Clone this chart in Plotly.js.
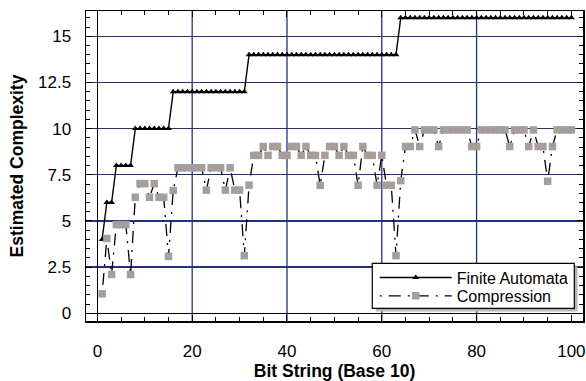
<!DOCTYPE html>
<html>
<head>
<meta charset="utf-8">
<script src="https://cdn.plot.ly/plotly-3.0.1.min.js"></script>
<style>
  html, body { margin: 0; padding: 0; background: #ffffff; }
  #chart { width: 586px; height: 381px; }
</style>
</head>
<body>
<div id="chart"></div>
<script>
// Bit strings (base 10 values)
const bitStrings = [
  1,2,3,4,5,6,7,8,9,10,11,12,13,14,15,16,17,18,19,20,
  21,22,23,24,25,26,27,28,29,30,31,32,33,34,35,36,37,38,39,40,
  41,42,43,44,45,46,47,48,49,50,51,52,53,54,55,56,57,58,59,60,
  61,62,63,64,65,66,67,68,69,70,71,72,73,74,75,76,77,78,79,80,
  81,82,83,84,85,86,87,88,89,90,91,92,93,94,95,96,97,98,99,100
];

// Finite Automata estimated complexity
const finiteAutomata = [
  4,6,6,8,8,8,8,10,10,10,10,10,10,10,10,12,12,12,12,12,
  12,12,12,12,12,12,12,12,12,12,12,14,14,14,14,14,14,14,14,14,
  14,14,14,14,14,14,14,14,14,14,14,14,14,14,14,14,14,14,14,14,
  14,14,14,16,16,16,16,16,16,16,16,16,16,16,16,16,16,16,16,16,
  16,16,16,16,16,16,16,16,16,16,16,16,16,16,16,16,16,16,16,16
];

// Compression estimated complexity
const compression = [
  1.05,4.05,2.1,4.8,4.8,4.8,2.1,6.28,7.02,7.02,6.28,7.02,6.28,6.28,3.08,6.65,7.88,7.88,7.88,7.88,
  7.88,7.88,6.67,7.88,7.88,7.88,6.67,7.88,6.67,6.67,3.12,6.94,8.55,8.55,9.03,8.55,9.03,9.03,8.55,8.55,
  9.03,9.03,8.55,9.03,8.55,8.55,6.93,8.55,9.03,9.03,8.55,9.03,8.55,8.55,6.93,9.03,8.55,8.55,6.93,8.55,
  6.93,6.93,3.12,7.18,9.03,9.03,9.93,9.03,9.93,9.93,9.93,9.03,9.93,9.93,9.93,9.93,9.93,9.93,9.03,9.03,
  9.93,9.93,9.93,9.93,9.93,9.93,9.03,9.93,9.93,9.93,9.03,9.93,9.03,9.03,7.15,9.03,9.93,9.93,9.93,9.93
];

// Axis ticks
const xTickVals = [0, 20, 40, 60, 80, 100];
const xTickText = ['0', '20', '40', '60', '80', '100'];
const yTickVals = [0, 2.5, 5, 7.5, 10, 12.5, 15];
const yTickText = ['0', '2.5', '5', '7.5', '10', '12.5', '15'];
const xGridVals = [20, 40, 60, 80];

const xMinor = [];
for (let v = 0; v <= 100; v += 5) xMinor.push(v);
const yMinor = [];
for (let v = 0; v <= 16; v += 0.5) yMinor.push(v);

const FONT = 'Liberation Sans, Arial, Helvetica, sans-serif';
const GRID = 'rgb(36,48,122)';

const traces = [
  {
    x: bitStrings, y: finiteAutomata, name: 'Finite Automata',
    type: 'scatter', mode: 'lines+markers', legend: 'legend',
    line: { color: '#000000', width: 1.4 },
    marker: { symbol: 'triangle-up', size: 6, color: '#000000' }
  },
  {
    x: bitStrings, y: compression, name: 'Compression',
    type: 'scatter', mode: 'lines+markers', legend: 'legend2',
    line: { color: '#000000', width: 1.3, dash: '2px,7px,12px,7px' },
    marker: { symbol: 'square', size: 7.5, color: 'rgb(166,158,155)' }
  }
];

const shapes = xGridVals.map(v => ({
  type: 'line', xref: 'x', yref: 'paper', x0: v, x1: v, y0: 0, y1: 1,
  line: { color: GRID, width: 1.3 }, layer: 'below'
}));
// legend drop shadow and frame
shapes.push({
  type: 'rect', xref: 'paper', yref: 'paper',
  x0: 0.583, x1: 0.989, y0: 0.031, y1: 0.176,
  fillcolor: 'rgb(182,182,182)', line: { width: 0 }, layer: 'above'
});
shapes.push({
  type: 'rect', xref: 'paper', yref: 'paper',
  x0: 0.576, x1: 0.9825, y0: 0.041, y1: 0.186,
  fillcolor: '#ffffff', line: { color: '#000000', width: 1.2 }, layer: 'above'
});

const legendCommon = {
  xanchor: 'left', yanchor: 'middle',
  bgcolor: 'rgba(0,0,0,0)', borderwidth: 0,
  font: { family: FONT, size: 16, color: '#000000' },
  itemwidth: 72
};

const layout = {
  width: 586, height: 381,
  margin: { l: 86, r: 3, t: 11, b: 60 },
  paper_bgcolor: '#ffffff', plot_bgcolor: '#ffffff',
  font: { family: FONT, size: 17, color: '#000000' },
  showlegend: true,
  legend: Object.assign({ x: 0.581, y: 0.140 }, legendCommon),
  legend2: Object.assign({ x: 0.581, y: 0.081 }, legendCommon),
  xaxis: {
    range: [-2.4, 102.45],
    tickmode: 'array', tickvals: xTickVals, ticktext: xTickText,
    ticks: 'inside', ticklen: 6, tickwidth: 1, tickcolor: '#000000',
    showline: true, linecolor: '#000000', linewidth: 1.5, mirror: 'allticks',
    showgrid: false,
    zeroline: true, zerolinecolor: '#000000', zerolinewidth: 1.5,
    ticklabelstandoff: 14,
    tickfont: { family: FONT, size: 17 },
    minor: { tickmode: 'array', tickvals: xMinor, ticks: 'inside', ticklen: 4, tickcolor: '#000000', showgrid: false },
    title: { text: 'Bit String (Base 10)', font: { family: FONT, size: 17.5, weight: 'bold' }, standoff: 6 }
  },
  yaxis: {
    range: [-0.42, 16.37],
    tickmode: 'array', tickvals: yTickVals, ticktext: yTickText,
    ticks: 'inside', ticklen: 6, tickwidth: 1, tickcolor: '#000000',
    showline: true, linecolor: '#000000', linewidth: 1.5, mirror: 'allticks',
    showgrid: true, gridcolor: GRID, gridwidth: 1.3,
    zeroline: true, zerolinecolor: '#000000', zerolinewidth: 1.5,
    ticklabelstandoff: 10,
    tickfont: { family: FONT, size: 17 },
    minor: { tickmode: 'array', tickvals: yMinor, ticks: 'inside', ticklen: 4, tickcolor: '#000000', showgrid: false },
    title: { text: 'Estimated Complexity', font: { family: FONT, size: 17.5, weight: 'bold' }, standoff: 10 }
  },
  shapes: shapes
};

Plotly.newPlot('chart', traces, layout, { displayModeBar: false, staticPlot: true });
</script>
</body>
</html>
